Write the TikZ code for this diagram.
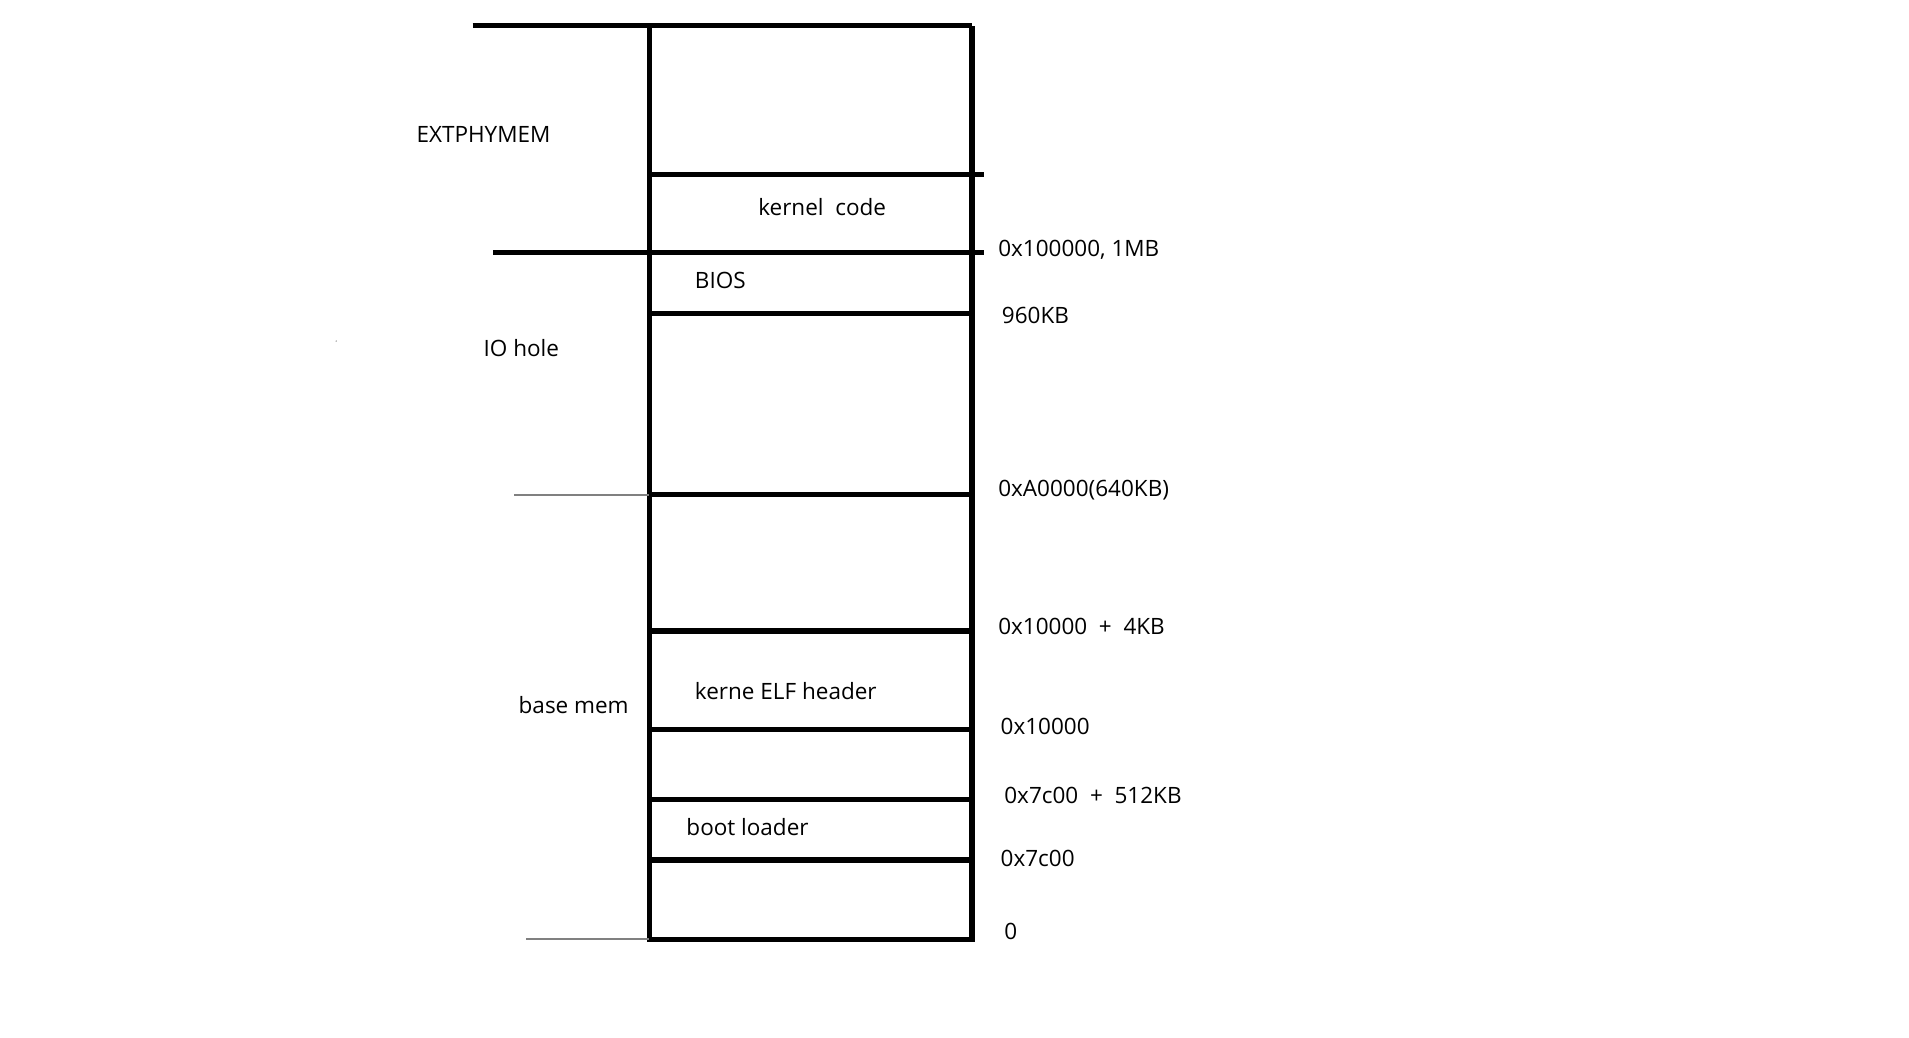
\documentclass[tikz,border=0pt]{standalone}
\usepackage{fontspec}
\setmainfont{Open Sans}
\usetikzlibrary{positioning}

\begin{document}
\begin{tikzpicture}[x=0.01218cm,y=-0.01218cm,
  wall/.style={line width=1.45pt},
  thin/.style={line width=0.55pt,gray},
  lbl/.style={inner sep=0pt,font=\fontsize{6.4pt}{8pt}\selectfont},
  addr/.style={lbl,anchor=west}]
\useasboundingbox (0,0) rectangle (1567.3,851.4);
% memory column
\draw[wall] (533,21) -- (533,771) -- (798,771) -- (798,21);
\draw[wall] (388,21) -- (798,21);
\draw[wall] (535,143) -- (808,143);
\draw[wall] (405,207) -- (808,207);
\foreach \y in {257,406,518,599,656,706}
  \draw[wall] (533,\y) -- (798,\y);
\draw[thin] (422,406) -- (533,406);
\draw[thin] (432,771) -- (533,771);
\fill[gray] (276,280) circle (0.6);
% regions
\node[lbl](ext) at (397,110){EXTPHYMEM};
\node[lbl](io) at (428,286){IO hole};
\node[lbl](base) at (471,579){base mem};
\node[lbl](kcode) at (675,170){kernel\ \ code};
\node[addr](bios) at (570,230){BIOS};
\node[addr](elf) at (570,567){kerne ELF header};
\node[addr](boot) at (563,679){boot loader};
% addresses
\node[addr](a1mb) at (819,205){0x100000, 1MB};
\node[addr](a960) at (822,259){960KB};
\node[addr](a640) at (819,402){0xA0000(640KB)};
\node[addr](aelfend) at (819,514){0x10000 \ + \ 4KB};
\node[addr](aelf) at (821,596){0x10000};
\node[addr](abootend) at (824,653){0x7c00 \ + \ 512KB};
\node[addr](aboot) at (821,705){0x7c00};
\node[addr](azero) at (824,765){0};
\end{tikzpicture}
\end{document}
